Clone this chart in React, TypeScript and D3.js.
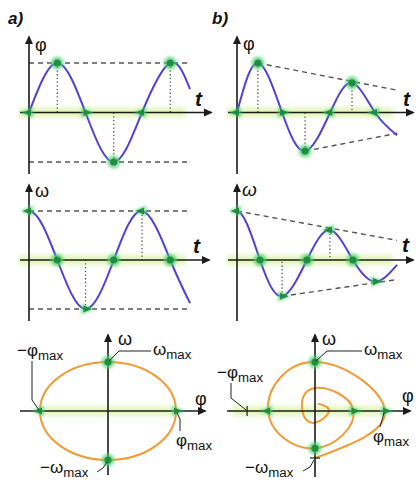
import React from "react";
import * as d3 from "d3";

const W = 416;
const H = 483;

// Undamped oscillation (a): nodes at extrema and zero crossings, t in quarter periods
const undampedPhiT = [0, 1, 2, 3, 4, 5, 5.7];
const undampedPhi = [0, 1, 0, -1, 0, 1, 0.47];
const undampedOmegaT = [-1, 0, 1, 2, 3, 4, 5, 5.7];
const undampedOmega = [0, 1, 0, -1, 0, 1, 0, -0.88];

// Damped oscillation (b)
const dampedPhiT = [0, 0.91, 1.96, 2.96, 4.05, 5.0, 6.0, 6.96];
const dampedPhi = [0, 1.0, 0, -0.78, 0, 0.6, 0, -0.46];
const dampedOmegaT = [-1, 0, 1.0, 1.96, 3.04, 4.04, 5.04, 6.0, 6.96];
const dampedOmega = [0, 1.0, 0, -0.74, 0, 0.61, 0, -0.44, -0.1];

// Times with a dotted drop line to the t axis
const undampedPhiDrops = [1, 3, 5];
const undampedOmegaDrops = [2, 4];
const dampedPhiDrops = [0.91, 2.96, 5.0];
const dampedOmegaDrops = [1.96, 4.04];

// Envelope lines of the damped curves: [t, value]
const phiEnvelopeUpper: [number, number][] = [[0.91, 1.0], [6.96, 0.45]];
const phiEnvelopeLower: [number, number][] = [[2.96, -0.78], [6.96, -0.42]];
const omegaEnvelopeUpper: [number, number][] = [[0, 1.0], [6.96, 0.4]];
const omegaEnvelopeLower: [number, number][] = [[1.96, -0.74], [6.96, -0.4]];

// Phase portrait of the damped oscillation: quarter-turn nodes of the spiral
const spiralPhi = [0, 1.0, 0, -0.67, 0, 0.55, 0, -0.18, 0, 0.2, 0.04];
const spiralOmega = [-0.96, 0, 1.0, 0, -0.76, 0, 0.47, 0, -0.24, 0, 0.15];

// Phase portrait of the undamped oscillation
const ellipsePhiMax = 1;
const ellipseOmegaMax = 1;

// Undamped amplitude ticks in the damped portrait
const dampedPhiTick = -0.97;
const dampedOmegaTick = -0.96;

const FONT = "'Liberation Sans', Arial, Helvetica, sans-serif";
const BLUE = "#4d43d6";
const ORANGE = "#f29a35";
const AXIS = "#1b1b1b";
const DASH = "#555";
const GREEN_GLOW = "#4fd070";
const GREEN_CORE = "#17883b";

const xA = d3.scaleLinear().domain([0, 4]).range([29, 142]);
const xB = d3.scaleLinear().domain([0, 4]).range([237, 329]);
const yTop = d3.scaleLinear().domain([-1, 1]).range([162, 63]);
const yMid = d3.scaleLinear().domain([-1, 1]).range([309, 211]);

const xPA = d3.scaleLinear().domain([-1, 1]).range([40, 176]);
const xPB = d3.scaleLinear().domain([-1, 1]).range([245, 385]);
const yP = d3.scaleLinear().domain([-1, 1]).range([460, 362]);

type Shape = "dot" | "left" | "right";

function Marker({ x, y, shape }: { x: number; y: number; shape: Shape }) {
  if (shape === "dot") {
    return (
      <g>
        <circle cx={x} cy={y} r={6.5} fill={GREEN_GLOW} opacity={0.75} filter="url(#glow)" />
        <circle cx={x} cy={y} r={3.6} fill={GREEN_CORE} opacity={0.9} />
      </g>
    );
  }
  const d = shape === "left" ? -1 : 1;
  const outer = `${x + d * 8.5},${y} ${x - d * 4},${y - 5.5} ${x - d * 4},${y + 5.5}`;
  const inner = `${x + d * 6.5},${y} ${x - d * 2},${y - 3.6} ${x - d * 2},${y + 3.6}`;
  return (
    <g>
      <polygon points={outer} fill={GREEN_GLOW} opacity={0.75} filter="url(#glow)" />
      <polygon points={inner} fill={GREEN_CORE} opacity={0.9} />
    </g>
  );
}

function Label({ x, y, minus, sym, size = 17 }: { x: number; y: number; minus?: boolean; sym: string; size?: number }) {
  return (
    <text x={x} y={y} fontFamily={FONT} fontSize={size} fill="#111">
      {minus ? "\u2212" : ""}
      {sym}
      <tspan fontSize={size * 0.78} dy={4}>max</tspan>
    </text>
  );
}

function Glow({ x1, x2, y }: { x1: number; x2: number; y: number }) {
  return <rect x={x1} y={y - 5} width={x2 - x1} height={10} fill="#cdef86" opacity={0.55} filter="url(#band)" />;
}

interface TimePanelProps {
  x: d3.ScaleLinear<number, number>;
  y: d3.ScaleLinear<number, number>;
  ts: number[];
  vs: number[];
  drops: number[];
  kind: "phi" | "omega";
  axisEnd: number;
  id: string;
}

function TimePanel({ x, y, ts, vs, drops, kind, axisEnd, id }: TimePanelProps) {
  const pts = ts.map((t, i) => [t, vs[i]] as [number, number]);
  const line = d3
    .line<[number, number]>()
    .x((d) => x(d[0]))
    .y((d) => y(d[1]))
    .curve(d3.curveNatural);
  const x0 = x(0);
  const y0 = y(0);
  const tEnd = ts[ts.length - 1];
  const valueAt = (t: number) => vs[ts.indexOf(t)];
  const marks = pts.filter((p, i) => p[0] >= 0 && i < pts.length - 1);
  const shapeOf = (p: [number, number], i: number): Shape => {
    if (kind === "phi") {
      if (p[1] !== 0) return "dot";
      const next = marks[i + 1] ? marks[i + 1][1] : 1;
      return next > 0 ? "left" : "right";
    }
    if (p[1] === 0) return "dot";
    return p[1] > 0 ? "left" : "right";
  };
  return (
    <g>
      <defs>
        <clipPath id={id}>
          <rect x={x0} y={0} width={W} height={H} />
        </clipPath>
      </defs>
      <Glow x1={x0 - 10} x2={x(tEnd) - 4} y={y0} />
      {drops.map((t) => (
        <line key={t} x1={x(t)} x2={x(t)} y1={y(valueAt(t))} y2={y0} stroke="#444" strokeWidth={1.2} strokeDasharray="1.3,2.4" />
      ))}
      <line x1={x0} x2={x0} y1={y(-1) + 12} y2={y(1) - 26} stroke={AXIS} strokeWidth={1.6} markerEnd="url(#arrow)" />
      <line x1={x0 - 9} x2={axisEnd} y1={y0} y2={y0} stroke={AXIS} strokeWidth={1.6} markerEnd="url(#arrow)" />
      <path d={line(pts) ?? ""} fill="none" stroke={BLUE} strokeWidth={2} clipPath={`url(#${id})`} />
      {marks.map((p, i) => (
        <Marker key={i} x={x(p[0])} y={y(p[1])} shape={shapeOf(p, i)} />
      ))}
    </g>
  );
}

export default function App() {
  const dashedA = [1, -1];
  const segLine = (x: d3.ScaleLinear<number, number>, y: d3.ScaleLinear<number, number>) =>
    d3
      .line<[number, number]>()
      .x((d) => x(d[0]))
      .y((d) => y(d[1]));

  const spiralPts = spiralPhi.map((p, i) => [p, spiralOmega[i]] as [number, number]);
  const spiralPath = d3
    .line<[number, number]>()
    .x((d) => xPB(d[0]))
    .y((d) => yP(d[1]))
    .curve(d3.curveNatural)(spiralPts);

  const spiralMarks: { p: [number, number]; s: Shape }[] = [
    { p: spiralPts[1], s: "right" },
    { p: spiralPts[2], s: "dot" },
    { p: spiralPts[3], s: "left" },
    { p: spiralPts[4], s: "dot" },
    { p: spiralPts[5], s: "right" },
  ];
  const ellipseMarks: { p: [number, number]; s: Shape }[] = [
    { p: [-ellipsePhiMax, 0], s: "left" },
    { p: [ellipsePhiMax, 0], s: "right" },
    { p: [0, ellipseOmegaMax], s: "dot" },
    { p: [0, -ellipseOmegaMax], s: "dot" },
  ];

  const leader = (pts: [number, number][]) => d3.line()(pts) ?? "";

  return (
    <svg width={W} height={H} style={{ position: "absolute", left: 0, top: 0, background: "#fff" }}>
      <defs>
        <marker id="arrow" viewBox="0 0 10 10" refX={8} refY={5} markerWidth={9} markerHeight={9} markerUnits="userSpaceOnUse" orient="auto">
          <path d="M0,0.5 L10,5 L0,9.5 z" fill={AXIS} />
        </marker>
        <filter id="glow" x="-50%" y="-50%" width="200%" height="200%">
          <feGaussianBlur stdDeviation={1.6} />
        </filter>
        <filter id="band" x="-10%" y="-100%" width="120%" height="300%">
          <feGaussianBlur stdDeviation={2.2} />
        </filter>
      </defs>

      {/* panel titles */}
      <text x={8} y={24} fontFamily={FONT} fontSize={17} fontWeight="bold" fontStyle="italic" fill="#111">a)</text>
      <text x={212} y={24} fontFamily={FONT} fontSize={17} fontWeight="bold" fontStyle="italic" fill="#111">b)</text>

      {/* a: φ(t) */}
      {dashedA.map((v) => (
        <path key={v} d={segLine(xA, yTop)([[0, v], [5.7, v]]) ?? ""} stroke={DASH} strokeWidth={1.4} strokeDasharray="5,4" fill="none" />
      ))}
      <TimePanel x={xA} y={yTop} ts={undampedPhiT} vs={undampedPhi} drops={undampedPhiDrops} kind="phi" axisEnd={211} id="clipA1" />
      <text x={35} y={51} fontFamily={FONT} fontSize={18} fill="#111">φ</text>
      <text x={195} y={106} fontFamily={FONT} fontSize={21} fontStyle="italic" fontWeight="bold" fill="#111">t</text>

      {/* a: ω(t) */}
      {dashedA.map((v) => (
        <path key={v} d={segLine(xA, yMid)([[0, v], [5.7, v]]) ?? ""} stroke={DASH} strokeWidth={1.4} strokeDasharray="5,4" fill="none" />
      ))}
      <TimePanel x={xA} y={yMid} ts={undampedOmegaT} vs={undampedOmega} drops={undampedOmegaDrops} kind="omega" axisEnd={209} id="clipA2" />
      <text x={35} y={197} fontFamily={FONT} fontSize={18} fill="#111">ω</text>
      <text x={193} y={253} fontFamily={FONT} fontSize={21} fontStyle="italic" fontWeight="bold" fill="#111">t</text>

      {/* b: φ(t), damped */}
      {[phiEnvelopeUpper, phiEnvelopeLower].map((seg, i) => (
        <path key={i} d={segLine(xB, yTop)(seg) ?? ""} stroke={DASH} strokeWidth={1.4} strokeDasharray="5,4" fill="none" />
      ))}
      <TimePanel x={xB} y={yTop} ts={dampedPhiT} vs={dampedPhi} drops={dampedPhiDrops} kind="phi" axisEnd={413} id="clipB1" />
      <text x={243} y={50} fontFamily={FONT} fontSize={18} fill="#111">φ</text>
      <text x={403} y={106} fontFamily={FONT} fontSize={21} fontStyle="italic" fontWeight="bold" fill="#111">t</text>

      {/* b: ω(t), damped */}
      {[omegaEnvelopeUpper, omegaEnvelopeLower].map((seg, i) => (
        <path key={i} d={segLine(xB, yMid)(seg) ?? ""} stroke={DASH} strokeWidth={1.4} strokeDasharray="5,4" fill="none" />
      ))}
      <TimePanel x={xB} y={yMid} ts={dampedOmegaT} vs={dampedOmega} drops={dampedOmegaDrops} kind="omega" axisEnd={413} id="clipB2" />
      <text x={242} y={196} fontFamily={FONT} fontSize={19} fontStyle="italic" fill="#111">ω</text>
      <text x={402} y={252} fontFamily={FONT} fontSize={21} fontStyle="italic" fontWeight="bold" fill="#111">t</text>

      {/* a: phase portrait */}
      <Glow x1={xPA(-1) + 4} x2={xPA(1) - 4} y={yP(0)} />
      <ellipse
        cx={xPA(0)}
        cy={yP(0)}
        rx={xPA(ellipsePhiMax) - xPA(0)}
        ry={yP(0) - yP(ellipseOmegaMax)}
        fill="none"
        stroke={ORANGE}
        strokeWidth={2}
      />
      <line x1={20} x2={205} y1={yP(0)} y2={yP(0)} stroke={AXIS} strokeWidth={1.6} markerEnd="url(#arrow)" />
      <line x1={xPA(0)} x2={xPA(0)} y1={475} y2={335} stroke={AXIS} strokeWidth={1.6} markerEnd="url(#arrow)" />
      {ellipseMarks.map((m, i) => (
        <Marker key={i} x={xPA(m.p[0])} y={yP(m.p[1])} shape={m.s} />
      ))}
      <text x={118} y={345} fontFamily={FONT} fontSize={18} fill="#111">ω</text>
      <text x={195} y={405} fontFamily={FONT} fontSize={18} fill="#111">φ</text>
      <g stroke="#222" strokeWidth={1} fill="none">
        <path d={leader([[32, 361], [32, 400], [xPA(-1) - 1, yP(0) - 1]])} />
        <path d={leader([[151, 351], [119, 351], [xPA(0) + 1, yP(1) - 1]])} />
        <path d={leader([[xPA(1) + 1, yP(0) + 2], [180, 419], [180, 431]])} />
        <path d={leader([[97, 472], [103, 468], [xPA(0) - 1, yP(-1) + 2]])} />
      </g>
      <Label x={17} y={356} minus sym="φ" />
      <Label x={153} y={355} sym="ω" />
      <Label x={176} y={446} sym="φ" />
      <Label x={40} y={473} minus sym="ω" />

      {/* b: phase portrait, damped */}
      <Glow x1={232} x2={xPB(1) - 4} y={yP(0)} />
      <path d={spiralPath ?? ""} fill="none" stroke={ORANGE} strokeWidth={2} />
      <line x1={227} x2={410} y1={yP(0)} y2={yP(0)} stroke={AXIS} strokeWidth={1.6} markerEnd="url(#arrow)" />
      <line x1={xPB(0)} x2={xPB(0)} y1={477} y2={335} stroke={AXIS} strokeWidth={1.6} markerEnd="url(#arrow)" />
      <line x1={xPB(dampedPhiTick)} x2={xPB(dampedPhiTick)} y1={yP(0) - 5} y2={yP(0) + 5} stroke={AXIS} strokeWidth={1.2} />
      <line x1={xPB(0) - 5} x2={xPB(0) + 5} y1={yP(dampedOmegaTick)} y2={yP(dampedOmegaTick)} stroke={AXIS} strokeWidth={1.2} />
      {spiralMarks.map((m, i) => (
        <Marker key={i} x={xPB(m.p[0])} y={yP(m.p[1])} shape={m.s} />
      ))}
      <text x={322} y={345} fontFamily={FONT} fontSize={18} fill="#111">ω</text>
      <text x={402} y={402} fontFamily={FONT} fontSize={18} fill="#111">φ</text>
      <g stroke="#222" strokeWidth={1} fill="none">
        <path d={leader([[231, 383], [231, 398], [xPB(dampedPhiTick) - 1, yP(0) - 1]])} />
        <path d={leader([[362, 351], [327, 351], [xPB(0) + 1, yP(1) - 1]])} />
        <path d={leader([[xPB(1) - 1, yP(0) + 2], [382, 420], [380, 427]])} />
        <path d={leader([[303, 471], [310, 467], [xPB(0) - 1, yP(dampedOmegaTick) + 2]])} />
      </g>
      <Label x={217} y={378} minus sym="φ" />
      <Label x={364} y={355} sym="ω" />
      <Label x={373} y={442} sym="φ" />
      <Label x={245} y={473} minus sym="ω" />
    </svg>
  );
}
